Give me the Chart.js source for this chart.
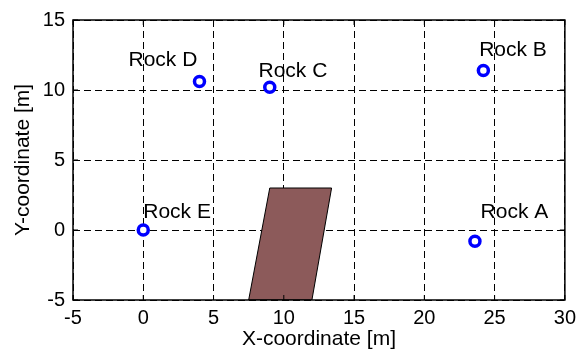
<!DOCTYPE html>
<html>
<head>
<meta charset="utf-8">
<script src="https://cdn.jsdelivr.net/npm/chart.js@4/dist/chart.umd.min.js"></script>
<style>
  html, body { margin: 0; padding: 0; background: #fff; }
  #wrap { width: 582px; height: 355px; }
</style>
</head>
<body>
<div id="wrap"><canvas id="rocks"></canvas></div>
<script>
// rock positions (m)
const rockNames = ['Rock A', 'Rock B', 'Rock C', 'Rock D', 'Rock E'];
const rockX = [23.6, 24.2, 9.0, 4.0, 0];
const rockY = [-0.8, 11.4, 10.2, 10.6, 0];
// text anchors, data units (like matlab text(x,y,...))
const labelX = [24.0, 23.9, 8.2, -1.05, 0];
const labelY = [0.85, 12.4, 10.9, 11.7, 0.85];

// brown block outline
const blockX = [7.5, 9.0, 13.4, 12.0, 7.5];
const blockY = [-5, 3, 3, -5, -5];

const xTicks = [-5, 0, 5, 10, 15, 20, 25, 30];
const yTicks = [-5, 0, 5, 10, 15];

const fontFamily = 'Arial, "Liberation Sans", sans-serif';
Chart.defaults.font.family = fontFamily;
Chart.defaults.color = '#000';

// box round the axes + small inward ticks + rock labels
const boxAndLabels = {
    id: 'boxAndLabels',
    afterDatasetsDraw(chart) {
        const { ctx, chartArea: a, scales } = chart;
        ctx.save();
        ctx.strokeStyle = '#000';
        ctx.lineWidth = 1.5;
        ctx.setLineDash([]);
        ctx.strokeRect(a.left, a.top, a.right - a.left, a.bottom - a.top);

        ctx.lineWidth = 1;
        ctx.beginPath();
        xTicks.forEach(v => {
            const px = scales.x.getPixelForValue(v);
            ctx.moveTo(px, a.bottom); ctx.lineTo(px, a.bottom - 5);
            ctx.moveTo(px, a.top); ctx.lineTo(px, a.top + 5);
        });
        yTicks.forEach(v => {
            const py = scales.y.getPixelForValue(v);
            ctx.moveTo(a.left, py); ctx.lineTo(a.left + 5, py);
            ctx.moveTo(a.right, py); ctx.lineTo(a.right - 5, py);
        });
        ctx.stroke();

        ctx.fillStyle = '#000';
        ctx.font = '21px ' + fontFamily;
        ctx.textAlign = 'left';
        ctx.textBaseline = 'alphabetic';
        rockNames.forEach((name, i) => {
            ctx.fillText(name, scales.x.getPixelForValue(labelX[i]), scales.y.getPixelForValue(labelY[i]));
        });
        ctx.restore();
    }
};

new Chart(document.getElementById('rocks').getContext('2d'), {
    type: 'scatter',
    data: {
        datasets: [
            {
                label: 'Rocks',
                data: rockX.map((x, i) => ({ x: x, y: rockY[i] })),
                pointRadius: 5,
                pointBorderWidth: 3.5,
                pointBorderColor: '#0000ff',
                pointBackgroundColor: '#ffffff',
                order: 0
            },
            {
                label: 'Block',
                data: blockX.map((x, i) => ({ x: x, y: blockY[i] })),
                showLine: true,
                fill: 'shape',
                backgroundColor: '#8c5a5a',
                borderColor: '#000',
                borderWidth: 1,
                pointRadius: 0,
                tension: 0,
                order: 1
            }
        ]
    },
    options: {
        responsive: true,
        maintainAspectRatio: false,
        animation: false,
        events: [],
        layout: { padding: { top: 15, right: 12, left: 0, bottom: 0 } },
        scales: {
            x: {
                type: 'linear',
                min: -5,
                max: 30,
                afterFit: s => { s.height = 55; },
                afterBuildTicks: s => { s.ticks = xTicks.map(v => ({ value: v })); },
                grid: { color: '#000', lineWidth: 1, drawTicks: false },
                border: { display: false, dash: [7, 4] },
                ticks: { padding: 6, font: { size: 20 }, color: '#000' },
                title: { display: true, text: 'X-coordinate [m]', font: { size: 21 }, padding: { top: 0, bottom: 3 } }
            },
            y: {
                type: 'linear',
                min: -5,
                max: 15,
                afterFit: s => { s.width = 73; },
                afterBuildTicks: s => { s.ticks = yTicks.map(v => ({ value: v })); },
                grid: { color: '#000', lineWidth: 1, drawTicks: false },
                border: { display: false, dash: [7, 4] },
                ticks: { padding: 8, font: { size: 20 }, color: '#000' },
                title: { display: true, text: 'Y-coordinate [m]', font: { size: 21 }, padding: { top: 11, bottom: 0 } }
            }
        },
        plugins: {
            legend: { display: false },
            tooltip: { enabled: false }
        }
    },
    plugins: [boxAndLabels]
});
</script>
</body>
</html>
